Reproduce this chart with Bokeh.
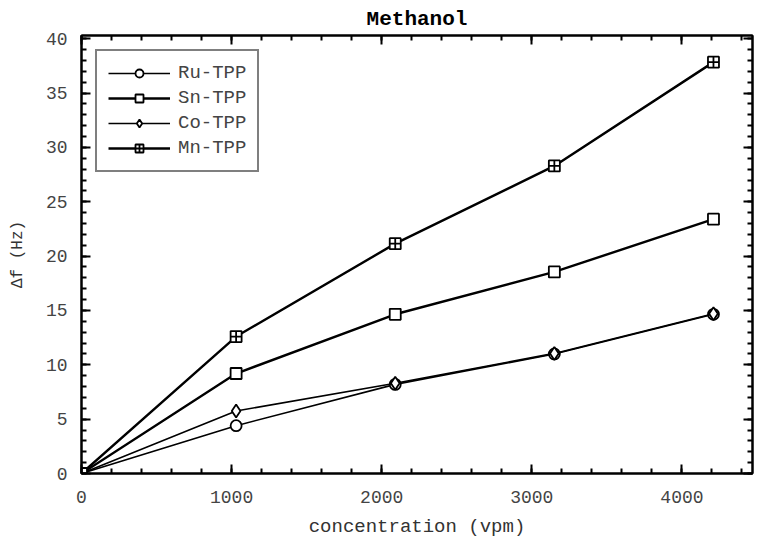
from bokeh.plotting import figure
from bokeh.models import LinearAxis, Range1d, Legend, LegendItem, SingleIntervalTicker
from bokeh.embed import file_html
from bokeh.resources import INLINE

# Data
conc = [0, 1030, 2090, 3150, 4210]
ru_tpp = [0.0, 4.4, 8.2, 11.0, 14.65]
sn_tpp = [0.0, 9.2, 14.65, 18.55, 23.4]
co_tpp = [0.0, 5.75, 8.3, 11.05, 14.7]
mn_tpp = [0.0, 12.6, 21.15, 28.3, 37.85]

series = [
    ("Ru-TPP", ru_tpp, "circle", 1.6),
    ("Sn-TPP", sn_tpp, "square", 2.4),
    ("Co-TPP", co_tpp, "diamond", 1.6),
    ("Mn-TPP", mn_tpp, "square_cross", 2.4),
]

FONT = "Liberation Mono"

p = figure(width=758, height=540, output_backend="svg", toolbar_location=None,
           x_range=Range1d(0, 4470), y_range=Range1d(0, 40.3),
           min_border_left=81, min_border_right=6, min_border_top=34, min_border_bottom=66)

p.title.text = "Methanol"
p.title.align = "center"
p.title.text_font = FONT
p.title.text_font_size = "21px"
p.title.text_font_style = "bold"
p.title.text_color = "black"
p.title.offset = 0

p.xgrid.visible = False
p.ygrid.visible = False
p.outline_line_color = "black"
p.outline_line_width = 2
p.background_fill_color = "white"
p.border_fill_color = "white"

items = []
for name, vals, marker, lw in series:
    r1 = p.line(conc, vals, line_color="black", line_width=lw)
    size = 13 if marker == "diamond" else 11
    r2 = p.scatter(conc, vals, marker=marker, size=size, line_color="black",
                   line_width=1.8, fill_color="white")
    items.append(LegendItem(label=name, renderers=[r1, r2]))

legend = Legend(items=items, location="top_left")
legend.label_text_font = FONT
legend.label_text_font_size = "19px"
legend.label_text_color = "#444444"
legend.glyph_width = 62
legend.glyph_height = 20
legend.label_height = 20
legend.spacing = 3
legend.padding = 11
legend.margin = 14
legend.label_standoff = 8
legend.border_line_color = "black"
legend.border_line_width = 2
legend.background_fill_alpha = 1.0
p.add_layout(legend)

def style_axis(ax, labels=True):
    ax.axis_line_color = "black"
    ax.axis_line_width = 2
    ax.major_tick_line_color = "black"
    ax.major_tick_line_width = 2
    ax.minor_tick_line_color = "black"
    ax.minor_tick_line_width = 2
    ax.major_tick_in = 9
    ax.major_tick_out = 0
    ax.minor_tick_in = 5
    ax.minor_tick_out = 0
    ax.major_label_text_font = FONT
    ax.major_label_text_font_size = "18px" if labels else "0px"
    ax.major_label_text_color = "#444444"
    if not labels:
        ax.major_label_standoff = 0

xt = SingleIntervalTicker(interval=1000, num_minor_ticks=5)
yt = SingleIntervalTicker(interval=5, num_minor_ticks=5)

p.xaxis.ticker = xt
p.yaxis.ticker = yt
style_axis(p.xaxis[0])
style_axis(p.yaxis[0])
p.xaxis.major_label_standoff = 17
p.yaxis.major_label_standoff = 14
p.xaxis.axis_label = "concentration (vpm)"
p.yaxis.axis_label = "Δf (Hz)"
for ax in (p.xaxis[0], p.yaxis[0]):
    ax.axis_label_text_font = FONT
    ax.axis_label_text_font_style = "normal"
    ax.axis_label_text_color = "#333333"
p.xaxis.axis_label_text_font_size = "19px"
p.yaxis.axis_label_text_font_size = "16px"
p.xaxis.axis_label_standoff = 10
p.yaxis.axis_label_standoff = 16

top = LinearAxis(ticker=SingleIntervalTicker(interval=1000, num_minor_ticks=5))
right = LinearAxis(ticker=SingleIntervalTicker(interval=5, num_minor_ticks=5))
style_axis(top, labels=False)
style_axis(right, labels=False)
p.add_layout(top, "above")
p.add_layout(right, "right")

open("out.html", "w").write(file_html(p, INLINE))
